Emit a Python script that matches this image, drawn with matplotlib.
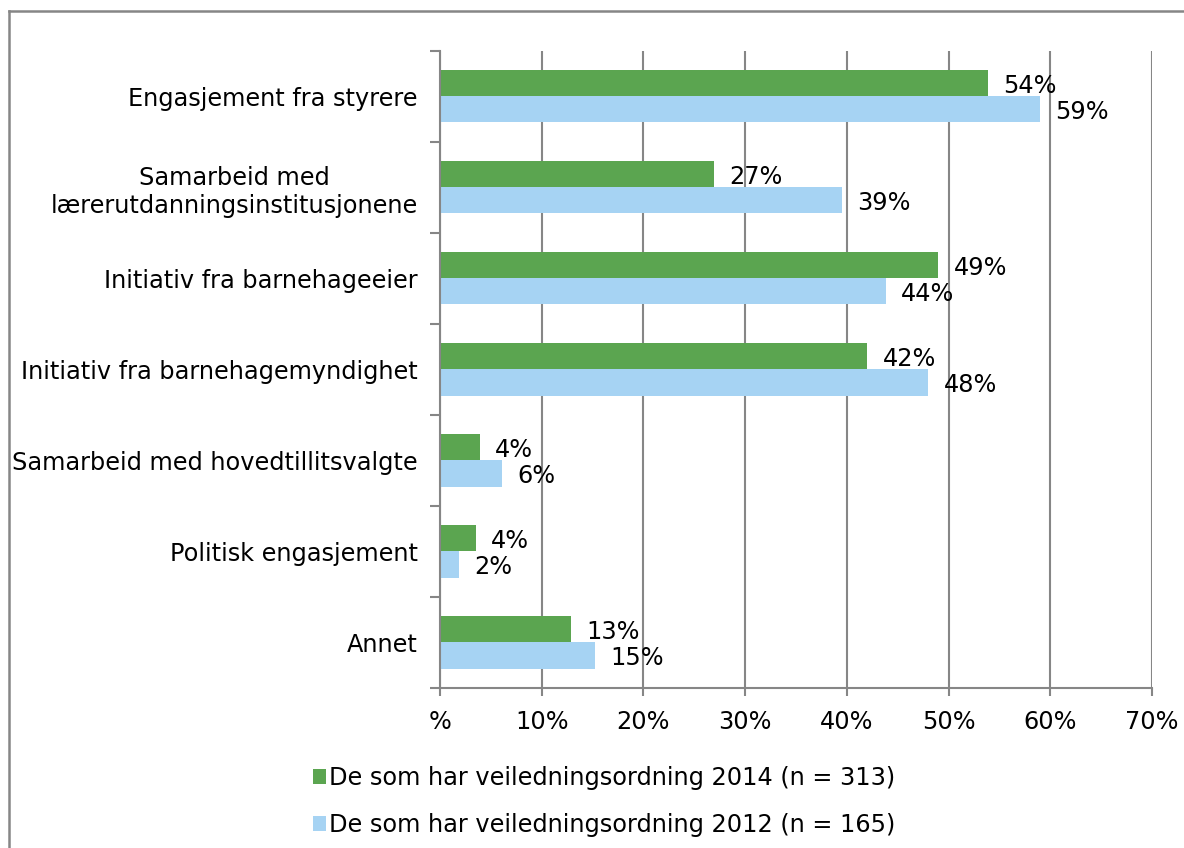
import numpy as np
import matplotlib.pyplot as plt
from matplotlib.lines import Line2D

kategorier = ['Engasjement fra styrere',
              'Samarbeid med\nlærerutdanningsinstitusjonene',
              'Initiativ fra barnehageeier',
              'Initiativ fra barnehagemyndighet',
              'Samarbeid med hovedtillitsvalgte',
              'Politisk engasjement',
              'Annet']
v2014 = [53.9, 26.9, 49.0, 42.0, 3.9, 3.5, 12.9]
v2012 = [59.0, 39.5, 43.8, 48.0, 6.1, 1.9, 15.2]
etiketter2014 = ['54%', '27%', '49%', '42%', '4%', '4%', '13%']
etiketter2012 = ['59%', '39%', '44%', '48%', '6%', '2%', '15%']
serier = ['De som har veiledningsordning 2014 (n = 313)',
          'De som har veiledningsordning 2012 (n = 165)']
xtikker = ['%', '10%', '20%', '30%', '40%', '50%', '60%', '70%']

gronn = '#5BA550'
bla = '#A6D3F3'
gra = '#868686'
fs = 17.3

fig = plt.figure(figsize=(11.84, 8.48), dpi=100)
ax = fig.add_axes([0.3716, 0.1887, 0.6014, 0.7512])

y = np.arange(len(kategorier))
h = 0.286
ax.barh(y - h / 2, v2014, height=h, color=gronn, label=serier[0], zorder=2)
ax.barh(y + h / 2, v2012, height=h, color=bla, label=serier[1], zorder=2)

# verdietiketter
for i in range(len(kategorier)):
    ax.annotate(etiketter2014[i], (v2014[i], y[i] - h / 2), xytext=(11, -1.5),
                textcoords='offset points', va='center', fontsize=fs)
    ax.annotate(etiketter2012[i], (v2012[i], y[i] + h / 2), xytext=(11, -1.5),
                textcoords='offset points', va='center', fontsize=fs)

ax.set_xlim(0, 70)
ax.set_ylim(len(kategorier) - 0.5, -0.5)
ax.set_xticks(np.arange(0, 71, 10))
ax.set_xticklabels(xtikker, fontsize=fs)
ax.set_yticks(y)
ax.set_yticklabels(kategorier, fontsize=fs, multialignment='center')
ax.set_yticks(np.arange(-0.5, len(kategorier)), minor=True)
ax.tick_params(axis='y', which='major', length=0, pad=16)
ax.tick_params(axis='y', which='minor', length=7, width=1.5, color=gra, direction='out')
ax.tick_params(axis='x', length=6, width=1.5, color=gra, pad=10)

ax.grid(axis='x', color=gra, linewidth=1.5, zorder=0)
ax.set_axisbelow(True)
for s in ['top', 'right']:
    ax.spines[s].set_visible(False)
for s in ['left', 'bottom']:
    ax.spines[s].set_color(gra)
    ax.spines[s].set_linewidth(1.5)

fig.legend(loc='upper left', bbox_to_anchor=(0.264, 0.0965), ncol=1, frameon=False,
           fontsize=fs, handlelength=0.55, handleheight=0.55, handletextpad=0.15,
           labelspacing=0.95, borderaxespad=0, borderpad=0)

# ramme rundt figuren
fig.add_artist(Line2D([0.008, 0.008], [0, 0.987], color=gra, lw=1.8, transform=fig.transFigure))
fig.add_artist(Line2D([0.008, 1], [0.987, 0.987], color=gra, lw=1.8, transform=fig.transFigure))

fig.savefig('out.png', dpi=100)
